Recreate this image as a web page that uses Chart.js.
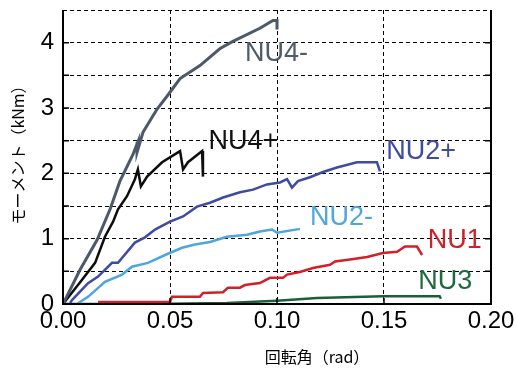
<!DOCTYPE html>
<html>
<head>
<meta charset="utf-8">
<script src="https://cdn.jsdelivr.net/npm/chart.js@4"></script>
<style>
  html, body { margin: 0; padding: 0; background: #fff; }
  canvas { display: block; }
</style>
</head>
<body>
<canvas id="chart" width="517" height="370"></canvas>
<script>
// 回転角 (rad) / モーメント (kNm)
const nu4mX = [0, 0.0079, 0.0159, 0.022, 0.0266, 0.0327, 0.035, 0.0346, 0.0374, 0.0439, 0.0486, 0.0547, 0.064, 0.0734, 0.0794, 0.092, 0.0981, 0.1, 0.1];
const nu4mY = [0, 0.52, 0.98, 1.45, 1.88, 2.29, 2.48, 2.32, 2.63, 2.98, 3.18, 3.45, 3.65, 3.91, 4.02, 4.22, 4.34, 4.34, 4.2];

const nu4pX = [0, 0.0089, 0.015, 0.0196, 0.0234, 0.0257, 0.0299, 0.0336, 0.035, 0.0364, 0.0393, 0.0463, 0.0547, 0.0561, 0.0584, 0.065, 0.0654];
const nu4pY = [0, 0.37, 0.63, 1.03, 1.26, 1.45, 1.65, 1.91, 2.06, 1.80, 1.95, 2.17, 2.34, 2.06, 2.17, 2.34, 1.95];

const nu2pX = [0.0033, 0.0042, 0.0117, 0.0164, 0.0229, 0.0257, 0.0336, 0.0383, 0.043, 0.05, 0.0561, 0.0626, 0.0687, 0.0748, 0.0827, 0.0888, 0.0953, 0.1014, 0.1047, 0.107, 0.1098, 0.1154, 0.1215, 0.128, 0.1374, 0.1467, 0.1481];
const nu2pY = [0.015, 0.06, 0.32, 0.42, 0.63, 0.63, 0.94, 1.02, 1.14, 1.26, 1.34, 1.49, 1.55, 1.63, 1.71, 1.75, 1.83, 1.86, 1.91, 1.78, 1.88, 1.94, 2.02, 2.09, 2.17, 2.17, 2.03];

const nu2mX = [0.0065, 0.0117, 0.0196, 0.0276, 0.0322, 0.0397, 0.0477, 0.0556, 0.0617, 0.0687, 0.0766, 0.086, 0.092, 0.0977, 0.1, 0.1107];
const nu2mY = [0, 0.11, 0.34, 0.45, 0.57, 0.63, 0.75, 0.86, 0.91, 0.95, 1.03, 1.06, 1.11, 1.14, 1.09, 1.15];

const nu1X = [0.0164, 0.05, 0.0509, 0.064, 0.0654, 0.0748, 0.0771, 0.0827, 0.085, 0.092, 0.0967, 0.1028, 0.1047, 0.1107, 0.1168, 0.1248, 0.1271, 0.1341, 0.1421, 0.1495, 0.1561, 0.1598, 0.1654, 0.1678];
const nu1Y = [0.03, 0.03, 0.11, 0.11, 0.17, 0.18, 0.25, 0.25, 0.29, 0.32, 0.40, 0.40, 0.45, 0.49, 0.55, 0.60, 0.65, 0.68, 0.72, 0.78, 0.80, 0.88, 0.88, 0.75];

const nu3X = [0, 0.04, 0.0766, 0.1, 0.1187, 0.1495, 0.176, 0.1766];
const nu3Y = [0, 0, 0.015, 0.05, 0.09, 0.12, 0.12, 0.08];

const seriesNames = ['NU4-', 'NU4+', 'NU2+', 'NU2-', 'NU1', 'NU3'];
const xTicks = [0, 0.05, 0.1, 0.15, 0.2];
const yTicks = [0, 1, 2, 3, 4];

// 曲線名ラベルの位置 (データ座標, 左端・中央)
const tagX = [0.085, 0.068, 0.151, 0.1154, 0.1705, 0.166];
const tagY = [3.83, 2.48, 2.34, 1.32, 0.97, 0.35];

const colors = ['#4d586a', '#0d0d0d', '#3f4aa3', '#4ea6dd', '#d2202a', '#1c5e39'];
const tagColors = ['#4f5b6c', '#111111', '#3f4aa3', '#4ea6dd', '#d2202a', '#1f6a3f'];

const pts = (xs, ys) => xs.map((x, i) => ({ x: x, y: ys[i] }));
const allSeries = [
  pts(nu4mX, nu4mY), pts(nu4pX, nu4pY), pts(nu2pX, nu2pY),
  pts(nu2mX, nu2mY), pts(nu1X, nu1Y), pts(nu3X, nu3Y)
];

const frame = {
  id: 'frame',
  afterDatasetsDraw(chart) {
    const { ctx, chartArea: a, scales } = chart;
    ctx.save();
    ctx.strokeStyle = '#000';
    ctx.lineWidth = 2;
    ctx.beginPath();
    ctx.moveTo(a.left, a.top);
    ctx.lineTo(a.left, a.bottom);
    ctx.lineTo(a.right, a.bottom);
    ctx.lineTo(a.right, a.top);
    ctx.stroke();
    // 内向きの目盛り
    ctx.lineWidth = 1.5;
    ctx.beginPath();
    for (let v = 0.5; v < 4.5; v += 0.5) {
      const y = scales.y.getPixelForValue(v);
      ctx.moveTo(a.left, y); ctx.lineTo(a.left + 6, y);
      ctx.moveTo(a.right, y); ctx.lineTo(a.right - 6, y);
    }
    xTicks.slice(1, -1).forEach(v => {
      const x = scales.x.getPixelForValue(v);
      ctx.moveTo(x, a.bottom); ctx.lineTo(x, a.bottom - 6);
    });
    ctx.stroke();

    // 曲線名
    ctx.font = '27px "Liberation Sans", Arial, sans-serif';
    ctx.textBaseline = 'middle';
    ctx.textAlign = 'left';
    seriesNames.forEach((name, i) => {
      ctx.fillStyle = tagColors[i];
      ctx.fillText(name, scales.x.getPixelForValue(tagX[i]), scales.y.getPixelForValue(tagY[i]));
    });

    // 軸タイトル
    ctx.fillStyle = '#000';
    ctx.font = '16px "Noto Sans CJK JP", sans-serif';
    ctx.textAlign = 'center';
    ctx.fillText('回転角（rad）', 317, 357);
    ctx.translate(18, 151);
    ctx.rotate(-Math.PI / 2);
    ctx.fillText('モーメント（kNm）', 0, 0);
    ctx.restore();
  }
};

const ctx = document.getElementById('chart').getContext('2d');
new Chart(ctx, {
  type: 'line',
  data: {
    datasets: allSeries.map((data, i) => ({
      label: seriesNames[i],
      data: data,
      borderColor: colors[i],
      borderWidth: i === 0 ? 3 : 2.5,
      pointRadius: 0,
      tension: 0,
      fill: false
    }))
  },
  options: {
    responsive: false,
    animation: false,
    layout: { padding: { top: 10, right: 26, left: 0, bottom: 0 } },
    plugins: { legend: { display: false }, tooltip: { enabled: false } },
    scales: {
      x: {
        type: 'linear',
        min: 0,
        max: 0.2,
        afterFit: s => {
          s.height = 66;
          s.paddingLeft = 0; s.paddingRight = 0;
          s.paddingTop = 0; s.paddingBottom = 0;
        },
        afterBuildTicks: s => { s.ticks = xTicks.map(v => ({ value: v })); },
        ticks: {
          color: '#000',
          padding: 3,
          maxRotation: 0,
          font: { size: 24, family: '"Liberation Sans", Arial, sans-serif' },
          callback: v => v.toFixed(2)
        },
        grid: { color: '#000', lineWidth: 1, drawTicks: false },
        border: { display: false, dash: [4, 3] }
      },
      y: {
        min: 0,
        max: 4.5,
        afterFit: s => {
          s.width = 63;
          s.paddingLeft = 0; s.paddingRight = 0;
          s.paddingTop = 0; s.paddingBottom = 0;
        },
        afterBuildTicks: s => {
          const t = [];
          for (let v = 0; v <= 4.5; v += 0.5) t.push({ value: v });
          s.ticks = t;
        },
        ticks: {
          color: '#000',
          padding: 9,
          font: { size: 24, family: '"Liberation Sans", Arial, sans-serif' },
          callback: v => yTicks.includes(v) ? String(v) : ''
        },
        grid: { color: '#000', lineWidth: 1, drawTicks: false },
        border: { display: false, dash: [4, 3] }
      }
    }
  },
  plugins: [frame]
});
</script>
</body>
</html>
